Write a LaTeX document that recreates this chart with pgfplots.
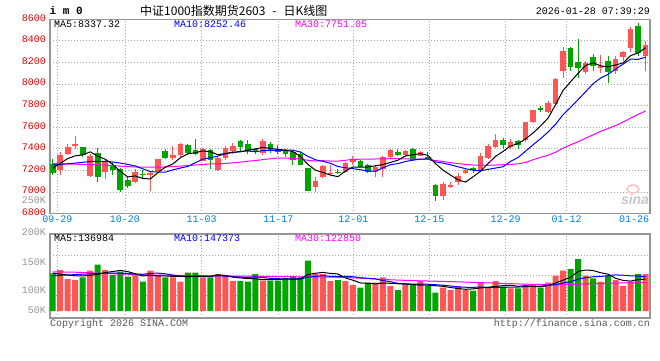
\documentclass[border=0pt]{standalone}
\usepackage{fontspec}
\usepackage{pgfplots}
\pgfplotsset{compat=1.18}
\usepackage{pgfplotstable}
\setmainfont{Liberation Mono}
\newfontfamily\cjk{Noto Sans CJK SC}
\newfontfamily\sansf{Liberation Sans}
\definecolor{cred}{RGB}{255,85,85}
\definecolor{cgreen}{RGB}{0,165,0}
\definecolor{lblred}{RGB}{225,0,0}
\definecolor{lblblue}{RGB}{0,128,221}
\definecolor{gridc}{RGB}{165,165,165}
\definecolor{boxc}{RGB}{150,150,150}
\definecolor{lblgray}{RGB}{150,150,150}
\definecolor{mag}{RGB}{255,0,255}
\definecolor{mablue}{RGB}{0,0,255}

% red (rising) candles: index, open, high, low, close, volume
\pgfplotstableread{
x o h l c v
1 7200 7370 7160 7340 102.5
2 7355 7445 7340 7420 80
3 7432 7520 7400 7440 77.5
5 7145 7350 7140 7330 100.8
7 7187 7294 7120 7278 102.5
11 7095 7217 7080 7187 90
13 7158 7187 7012 7178 100.8
14 7195 7310 7190 7305 90
16 7316 7422 7294 7340 84.2
17 7340 7450 7325 7447 73.3
20 7290 7405 7285 7401 84.2
22 7202 7320 7195 7315 92.5
23 7315 7422 7300 7407 87.5
24 7380 7453 7355 7422 75
28 7361 7493 7340 7477 75.8
35 7049 7135 7003 7101 92.5
36 7135 7248 7126 7242 92.5
37 7172 7248 7156 7178 75
39 7187 7278 7180 7269 75
40 7278 7330 7248 7294 65
43 7181 7248 7135 7233 70.8
44 7217 7330 7141 7324 84.2
45 7324 7401 7318 7392 62.5
47 7340 7392 7330 7379 65
49 7335 7380 7330 7372 75
52 6960 7097 6923 7076 58.3
53 7042 7097 7036 7067 52.5
54 7097 7174 7067 7152 62.5
55 7180 7219 7167 7204 52.5
57 7198 7357 7189 7332 70.8
58 7311 7448 7308 7424 59.2
59 7418 7533 7411 7485 75
61 7418 7494 7402 7463 56.7
63 7485 7648 7463 7646 65
64 7646 7762 7637 7759 67.5
66 7738 7845 7729 7829 70.8
67 7814 8058 7808 8049 88.3
68 8125 8348 8058 8311 100.8
71 8110 8211 8089 8196 88.3
73 8150 8272 8104 8171 73.3
75 8119 8257 8089 8233 77.5
76 8251 8309 8211 8294 62.5
77 8333 8532 8294 8511 73.3
79 8263 8395 8119 8358 92.5
}\redtab

% green (falling) candles
\pgfplotstableread{
x o h l c v
0 7260 7310 7160 7180 94.2
4 7415 7420 7325 7340 84.2
6 7358 7405 7095 7141 115.8
8 7250 7278 7156 7202 90
9 7210 7220 7003 7018 98.3
10 7110 7140 7035 7060 85.8
12 7168 7208 7126 7162 73.3
15 7378 7400 7308 7316 84.2
18 7431 7441 7340 7361 95.8
19 7386 7490 7340 7355 95.8
21 7386 7401 7217 7300 84.2
25 7471 7483 7370 7416 75
26 7441 7483 7355 7380 73.3
27 7401 7410 7355 7370 92.5
29 7441 7462 7361 7376 75.8
30 7395 7440 7350 7370 75.8
31 7386 7401 7325 7349 81.7
32 7370 7386 7250 7300 87.5
33 7355 7370 7248 7254 84.2
34 7223 7225 7005 7009 125.8
38 7187 7217 7165 7178 77.5
41 7288 7300 7230 7233 58.3
42 7248 7263 7180 7187 70.8
46 7370 7401 7330 7340 52.5
48 7401 7407 7288 7294 67.5
50 7326 7372 7296 7312 62.5
51 7067 7070 6914 6960 45.8
56 7225 7235 7180 7204 50.8
60 7479 7503 7402 7433 60.8
62 7472 7485 7402 7433 56.7
65 7777 7796 7738 7760 58.3
69 8333 8340 8119 8159 105
70 8202 8419 8058 8150 130
72 8248 8281 8119 8171 81.7
74 8211 8257 8012 8113 87.5
78 8541 8569 8257 8288 92.5
}\greentab

\pgfplotsset{
  chartbox/.style={
    scale only axis, width=600pt,
    xmin=-0.36, xmax=79.58,
    axis line style={draw=boxc, line width=1.3pt},
    major tick length=0pt,
    grid=major,
    grid style={draw=gridc, line width=0.8pt, dash pattern=on 1pt off 2pt},
    xtick={0.61,9.63,19.85,30.06,40.05,50.17,60.35,68.48},
    clip=true,
  },
}

\begin{document}
\begin{tikzpicture}
\path[use as bounding box, fill=white] (0pt,0pt) rectangle (660pt,-360pt);

% ---------- price chart ----------
\begin{axis}[chartbox,
  anchor=north west, at={(50pt,-19.3pt)}, height=194.3pt,
  ymin=6800, ymax=8600,
  ytick={6800,7000,7200,7400,7600,7800,8000,8200,8400,8600},
  yticklabels={6800,7000,7200,7400,7600,7800,8000,8200,8400,8600},
  yticklabel style={anchor=east, inner sep=0pt, xshift=-4pt, yshift=1.5pt, text=lblred, font=\fontsize{10}{10}\selectfont},
  xticklabels={09-29,10-20,11-03,11-17,12-01,12-15,12-29,01-12},
  xticklabel style={anchor=north, inner sep=0pt, yshift=-2.5pt, text=lblblue, font=\fontsize{10}{10}\selectfont},
  extra x ticks={77.45}, extra x tick labels={01-26},
  extra x tick style={grid=none},
  /pgf/number format/assume math mode=true,
]
% wicks
\addplot[draw=none, mark=none, forget plot, error bars/.cd, y dir=both, y explicit, error mark=none,
  error bar style={draw=cred, line width=1pt}]
  table[x=x, y expr={(\thisrow{h}+\thisrow{l})/2}, y error expr={(\thisrow{h}-\thisrow{l})/2}] {\redtab};
\addplot[draw=none, mark=none, forget plot, error bars/.cd, y dir=both, y explicit, error mark=none,
  error bar style={draw=cgreen, line width=1pt}]
  table[x=x, y expr={(\thisrow{h}+\thisrow{l})/2}, y error expr={(\thisrow{h}-\thisrow{l})/2}] {\greentab};
% bodies
\addplot[draw=none, mark=none, forget plot, error bars/.cd, y dir=both, y explicit, error mark=none,
  error bar style={draw=cred, line width=5.6pt}]
  table[x=x, y expr={(\thisrow{o}+\thisrow{c})/2}, y error expr={max(abs(\thisrow{c}-\thisrow{o})/2,5)}] {\redtab};
\addplot[draw=none, mark=none, forget plot, error bars/.cd, y dir=both, y explicit, error mark=none,
  error bar style={draw=cgreen, line width=5.6pt}]
  table[x=x, y expr={(\thisrow{o}+\thisrow{c})/2}, y error expr={max(abs(\thisrow{c}-\thisrow{o})/2,5)}] {\greentab};
% MA30
\addplot[mag, line width=1pt, mark=none] coordinates {
(0,7262)(1,7262)(2,7260)(3,7258)(4,7256)(5,7255)(6,7252)(7,7250)(8,7245)(9,7240)
(10,7236)(11,7232)(12,7230)(13,7230)(14,7230)(15,7232)(16,7236)(17,7240)(18,7245)(19,7250)
(20,7255)(21,7260)(22,7262)(23,7265)(24,7270)(25,7277)(26,7285)(27,7292)(28,7300)(29,7308)
(30,7315)(31,7315)(32,7311)(33,7305)(34,7294)(35,7287)(36,7290)(37,7287)(38,7286)(39,7294)
(40,7302)(41,7304)(42,7304)(43,7306)(44,7307)(45,7309)(46,7309)(47,7307)(48,7305)(49,7305)
(50,7302)(51,7291)(52,7283)(53,7272)(54,7263)(55,7256)(56,7250)(57,7249)(58,7247)(59,7250)
(60,7253)(61,7256)(62,7261)(63,7274)(64,7299)(65,7321)(66,7340)(67,7369)(68,7407)(69,7437)
(70,7465)(71,7498)(72,7530)(73,7562)(74,7588)(75,7616)(76,7648)(77,7685)(78,7719)(79,7751)};
% MA10
\addplot[mablue, line width=1pt, mark=none] coordinates {
(0,7250)(1,7255)(2,7262)(3,7268)(4,7275)(5,7283)(6,7285)(7,7285)(8,7278)(9,7268)
(10,7256)(11,7241)(12,7215)(13,7189)(14,7185)(15,7185)(16,7205)(17,7222)(18,7237)(19,7271)
(20,7305)(21,7317)(22,7332)(23,7355)(24,7366)(25,7376)(26,7380)(27,7373)(28,7384)(29,7386)
(30,7383)(31,7388)(32,7387)(33,7371)(34,7330)(35,7299)(36,7285)(37,7266)(38,7236)(39,7225)
(40,7217)(41,7206)(42,7195)(43,7192)(44,7224)(45,7253)(46,7263)(47,7283)(48,7295)(49,7305)
(50,7307)(51,7279)(52,7268)(53,7252)(54,7234)(55,7216)(56,7202)(57,7197)(58,7210)(59,7222)
(60,7234)(61,7284)(62,7320)(63,7378)(64,7438)(65,7494)(66,7556)(67,7628)(68,7717)(69,7784)
(70,7856)(71,7929)(72,8003)(73,8056)(74,8091)(75,8138)(76,8185)(77,8231)(78,8229)(79,8249)};
% MA5
\addplot[black, line width=1pt, mark=none] coordinates {
(0,7220)(1,7265)(2,7310)(3,7335)(4,7344)(5,7372)(6,7332)(7,7304)(8,7256)(9,7192)
(10,7140)(11,7149)(12,7126)(13,7121)(14,7178)(15,7230)(16,7260)(17,7317)(18,7354)(19,7364)
(20,7381)(21,7373)(22,7346)(23,7356)(24,7369)(25,7372)(26,7388)(27,7399)(28,7413)(29,7404)
(30,7395)(31,7388)(32,7374)(33,7330)(34,7256)(35,7203)(36,7181)(37,7157)(38,7142)(39,7194)
(40,7232)(41,7230)(42,7232)(43,7243)(44,7254)(45,7274)(46,7295)(47,7334)(48,7346)(49,7355)
(50,7339)(51,7263)(52,7203)(53,7157)(54,7113)(55,7092)(56,7141)(57,7192)(58,7263)(59,7330)
(60,7376)(61,7427)(62,7448)(63,7492)(64,7547)(65,7612)(66,7685)(67,7809)(68,7942)(69,8022)
(70,8100)(71,8173)(72,8197)(73,8169)(74,8160)(75,8177)(76,8196)(77,8264)(78,8288)(79,8337)};
\end{axis}

% ---------- volume chart ----------
\begin{axis}[chartbox,
  anchor=north west, at={(50pt,-234pt)}, height=84pt,
  ymin=-17.5, ymax=192.5,
  ytick={40,90,140},
  xticklabels={}, yticklabels={},
]
\addplot[ybar, bar width=6pt, bar shift=0pt, fill=cred, draw=none] table[x=x, y=v] {\redtab};
\addplot[ybar, bar width=6pt, bar shift=0pt, fill=cgreen, draw=none] table[x=x, y=v] {\greentab};
% volume MA30
\addplot[mag, line width=1pt, mark=none] coordinates {
(0,98)(3,97)(6,94.5)(10,92)(13,90)(17,89)(20,88)(24,87.5)(27,87)(30,86)(33,85.5)(36,85)
(39,84)(42,81)(45,78)(48,76)(51,74.5)(54,73)(57,71)(60,69)(63,67)(66,66)(69,66.5)(72,68)(75,70)(79,71)};
% volume MA10
\addplot[mablue, line width=1pt, mark=none] coordinates {
(0,88)(1,89)(2,90)(3,91)(4,92)(5,93)(6,94)(7,94.5)(8,94.6)(9,94.6)
(10,93.7)(11,92.5)(12,91.8)(13,94.2)(14,94.7)(15,93.1)(16,89.9)(17,87)(18,87.6)(19,87.3)
(20,87.2)(21,86.6)(22,88.5)(23,87.2)(24,85.7)(25,84.8)(26,83.7)(27,85.6)(28,83.6)(29,81.6)
(30,80.7)(31,80.5)(32,80)(33,79.7)(34,84.7)(35,86.5)(36,88.4)(37,86.7)(38,86.8)(39,86.8)
(40,85.7)(41,83.3)(42,81.7)(43,80.3)(44,76.2)(45,73.2)(46,69.2)(47,68.2)(48,67.2)(49,67.2)
(50,66.9)(51,65.7)(52,64.4)(53,62.6)(54,60.4)(55,59.4)(56,59.2)(57,59.8)(58,59)(59,59)
(60,58.8)(61,59.9)(62,59.8)(63,61)(64,61.5)(65,62.1)(66,64.1)(67,65.8)(68,70)(69,73)
(70,79.9)(71,83.1)(72,85.6)(73,86.4)(74,88.4)(75,90.3)(76,89.5)(77,88)(78,87.2)(79,85.9)};
% volume MA5
\addplot[black, line width=1pt, mark=none] coordinates {
(0,95)(1,92)(2,90)(3,88)(4,87.7)(5,89)(6,91.7)(7,96.2)(8,98.7)(9,101.5)
(10,98.5)(11,93.3)(12,87.5)(13,89.6)(14,88)(15,87.7)(16,86.5)(17,86.5)(18,85.5)(19,86.7)
(20,86.7)(21,86.7)(22,90.5)(23,88.8)(24,84.7)(25,82.8)(26,80.7)(27,80.7)(28,78.3)(29,78.5)
(30,78.6)(31,80.3)(32,79.3)(33,81)(34,91)(35,94.3)(36,96.5)(37,94)(38,92.7)(39,82.5)
(40,77)(41,70.2)(42,69.3)(43,68)(44,69.8)(45,69.3)(46,68.2)(47,67)(48,66.3)(49,64.5)
(50,64.5)(51,63.2)(52,61.8)(53,58.8)(54,56.3)(55,54.3)(56,55.3)(57,57.8)(58,59.2)(59,61.7)
(60,63.3)(61,64.5)(62,61.7)(63,62.8)(64,61.3)(65,60.8)(66,63.7)(67,70)(68,77.1)(69,84.6)
(70,99)(71,102.5)(72,101.2)(73,95.7)(74,92.2)(75,81.7)(76,76.5)(77,74.8)(78,78.7)(79,79.7)};
\end{axis}

% ---------- texts ----------
\node[anchor=west, inner sep=0pt, font=\bfseries\fontsize{11}{11}\selectfont] at (49.5pt,-11pt) {i m 0};
\node[anchor=west, inner sep=0pt, font=\cjk\fontsize{12}{12}\selectfont] at (140pt,-11pt) {中证1000指数期货2603\hspace{7pt}-\hspace{7pt}日K线图};
\node[anchor=east, inner sep=0pt, font=\fontsize{10}{10}\selectfont] at (650pt,-11pt) {2026-01-28 07:39:29};

\node[anchor=west, inner sep=0pt, font=\fontsize{10}{10}\selectfont, text=black] at (54pt,-24.5pt) {MA5:8337.32};
\node[anchor=west, inner sep=0pt, font=\fontsize{10}{10}\selectfont, text=mablue] at (174pt,-24.5pt) {MA10:8252.46};
\node[anchor=west, inner sep=0pt, font=\fontsize{10}{10}\selectfont, text=mag] at (295pt,-24.5pt) {MA30:7751.05};

\node[anchor=east, inner sep=0pt, font=\fontsize{10}{10}\selectfont, text=lblgray] at (46pt,-200.5pt) {250K};
\node[anchor=east, inner sep=0pt, font=\fontsize{10}{10}\selectfont, text=lblgray] at (46pt,-232pt) {200K};
\node[anchor=east, inner sep=0pt, font=\fontsize{10}{10}\selectfont, text=lblgray] at (46pt,-262pt) {150K};
\node[anchor=east, inner sep=0pt, font=\fontsize{10}{10}\selectfont, text=lblgray] at (46pt,-290pt) {100K};
\node[anchor=east, inner sep=0pt, font=\fontsize{10}{10}\selectfont, text=lblgray] at (46pt,-310pt) {50K};

\node[anchor=west, inner sep=0pt, font=\fontsize{10}{10}\selectfont, text=black] at (54pt,-238.5pt) {MA5:136984};
\node[anchor=west, inner sep=0pt, font=\fontsize{10}{10}\selectfont, text=mablue] at (174pt,-238.5pt) {MA10:147373};
\node[anchor=west, inner sep=0pt, font=\fontsize{10}{10}\selectfont, text=mag] at (295pt,-238.5pt) {MA30:122850};

\node[anchor=west, inner sep=0pt, font=\fontsize{10}{10}\selectfont, text=black!65] at (50pt,-324pt) {Copyright 2026 SINA.COM};
\node[anchor=east, inner sep=0pt, font=\fontsize{10}{10}\selectfont, text=black!65] at (650pt,-324pt) {http://finance.sina.com.cn};

% watermark
\draw[red!25, line width=1.5pt] (633pt,-189pt) ellipse (6pt and 4pt);
\node[inner sep=0pt, font=\sansf\bfseries\itshape\fontsize{14}{14}\selectfont, text=black!22] at (635pt,-199pt) {sina};
\end{tikzpicture}
\end{document}
